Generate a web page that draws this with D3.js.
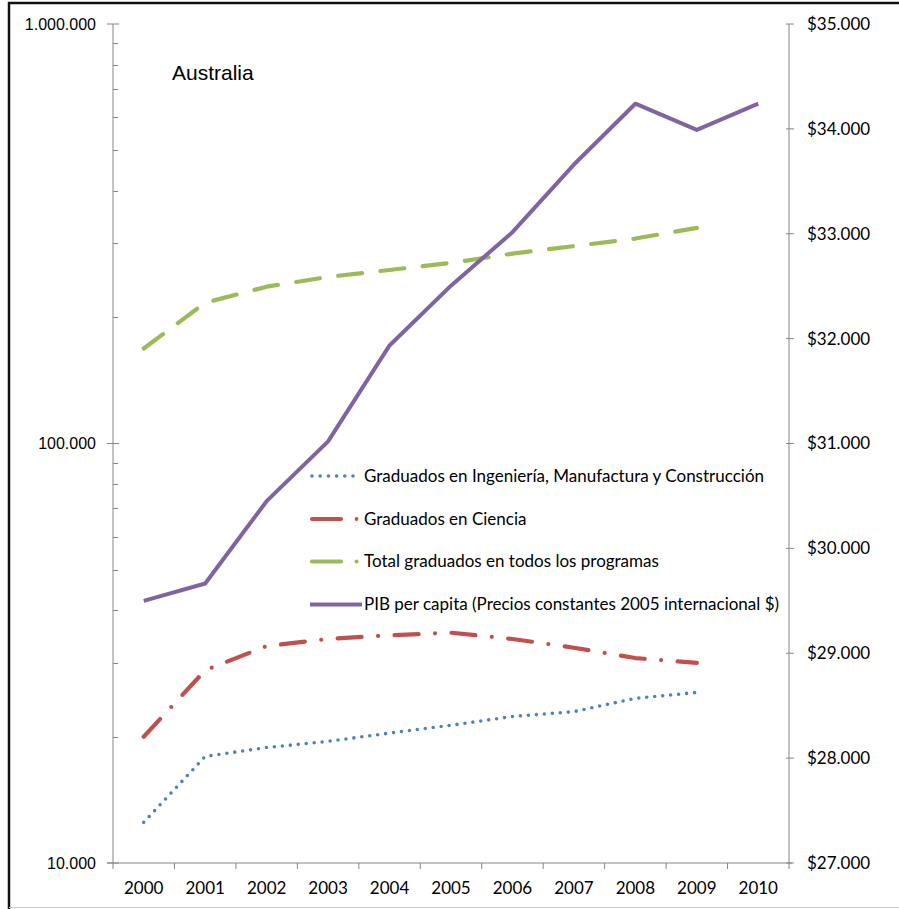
<!DOCTYPE html>
<html>
<head>
<meta charset="utf-8">
<script src="https://cdn.jsdelivr.net/npm/d3@7"></script>
<style>
  html, body { margin: 0; padding: 0; background: #fff; }
  svg { display: block; }
</style>
</head>
<body>
<svg id="chart" width="899" height="909"></svg>
<script>
// Australia: graduates (log scale, left) and GDP per capita (right)
const years = ["2000","2001","2002","2003","2004","2005","2006","2007","2008","2009","2010"];

const gradIngenieria = [12500, 17950, 18850, 19500, 20400, 21300, 22350, 22950, 24700, 25500];
const gradCiencia    = [20000, 28800, 32900, 34200, 34900, 35400, 34200, 32600, 30800, 30000];
const gradTotal      = [168500, 216500, 236500, 249500, 259200, 269500, 283500, 295500, 308000, 326500];
const pibPerCapita   = [29500, 29665, 30450, 31020, 31935, 32505, 33015, 33660, 34240, 33990, 34240];

const leftTicks  = [10000, 100000, 1000000];
const rightTicks = [27000, 28000, 29000, 30000, 31000, 32000, 33000, 34000, 35000];

const legendNames = [
  "Graduados en Ingeniería, Manufactura y Construcción",
  "Graduados en Ciencia",
  "Total graduados en todos los programas",
  "PIB per capita (Precios constantes 2005 internacional $)"
];

const fmtThousands = d3.formatLocale({decimal: ",", thousands: ".", grouping: [3], currency: ["$", ""]});
const fmtLeft = fmtThousands.format(",d");
const fmtRight = fmtThousands.format("$,d");

const svg = d3.select("#chart");
const plot = {left: 113, right: 789, top: 24, bottom: 863};
const axisColor = "#868686";
const labelFont = "Lato, sans-serif";

// outer frame
svg.append("line").attr("x1", 8).attr("x2", 899).attr("y1", 3).attr("y2", 3)
  .attr("stroke", "#111").attr("stroke-width", 2.5);
svg.append("line").attr("x1", 9).attr("x2", 9).attr("y1", 2).attr("y2", 909)
  .attr("stroke", "#111").attr("stroke-width", 2.5);
svg.append("line").attr("x1", 9).attr("x2", 899).attr("y1", 907.5).attr("y2", 907.5)
  .attr("stroke", "#c8c8c8").attr("stroke-width", 1);

const x = d3.scaleBand().domain(years).range([plot.left, plot.right]);
const yL = d3.scaleLog().domain([10000, 1000000]).range([plot.bottom, plot.top]);
const yR = d3.scaleLinear().domain([27000, 35000]).range([plot.bottom, plot.top]);
const cx = d => x(d) + x.bandwidth() / 2;

// left log axis
const gL = svg.append("g");
gL.append("line").attr("x1", plot.left).attr("x2", plot.left)
  .attr("y1", plot.top).attr("y2", plot.bottom).attr("stroke", axisColor);
const minor = [];
for (let dec = 10000; dec < 1000000; dec *= 10) for (let m = 2; m <= 9; m++) minor.push(dec * m);
gL.selectAll("line.minor").data(minor).join("line").attr("class", "minor")
  .attr("x1", plot.left).attr("x2", plot.left + 5)
  .attr("y1", d => Math.round(yL(d)) + 0.5).attr("y2", d => Math.round(yL(d)) + 0.5)
  .attr("stroke", axisColor);
gL.selectAll("line.major").data(leftTicks).join("line").attr("class", "major")
  .attr("x1", plot.left - 6).attr("x2", plot.left + 6)
  .attr("y1", d => yL(d)).attr("y2", d => yL(d)).attr("stroke", axisColor);
gL.selectAll("text").data(leftTicks).join("text")
  .attr("x", 96).attr("y", d => yL(d)).attr("dy", "0.35em")
  .attr("text-anchor", "end").attr("font-family", "Liberation Sans, Arial, sans-serif")
  .attr("font-size", 16).attr("fill", "#000").text(d => fmtLeft(d));

// right linear axis
const gR = svg.append("g");
gR.append("line").attr("x1", plot.right).attr("x2", plot.right)
  .attr("y1", plot.top).attr("y2", plot.bottom).attr("stroke", axisColor);
gR.selectAll("line.tick").data(rightTicks).join("line").attr("class", "tick")
  .attr("x1", plot.right - 3).attr("x2", plot.right + 5)
  .attr("y1", d => yR(d)).attr("y2", d => yR(d)).attr("stroke", axisColor);
gR.selectAll("text").data(rightTicks).join("text")
  .attr("x", 807).attr("y", d => yR(d)).attr("dy", "0.35em")
  .attr("font-family", labelFont).attr("font-size", 17)
  .attr("fill", "#000").text(d => fmtRight(d));

// category axis
const gX = svg.append("g");
gX.append("line").attr("x1", plot.left - 6).attr("x2", plot.right + 3)
  .attr("y1", plot.bottom).attr("y2", plot.bottom).attr("stroke", axisColor);
const bounds = years.map(d => x(d)).concat([plot.right]);
gX.selectAll("line.tick").data(bounds).join("line").attr("class", "tick")
  .attr("x1", d => d).attr("x2", d => d)
  .attr("y1", plot.bottom).attr("y2", plot.bottom + 6).attr("stroke", axisColor);
gX.selectAll("text").data(years).join("text")
  .attr("x", d => cx(d)).attr("y", 894).attr("text-anchor", "middle")
  .attr("font-family", labelFont).attr("font-size", 17)
  .attr("fill", "#000").text(d => d);

// series
const styles = [
  {color: "#4F81BD", width: 3.6, dash: "0,8"},
  {color: "#C0504D", width: 4.2, dash: "24,16.5,0,16.5"},
  {color: "#9BBB59", width: 4.2, dash: "24,18.5"},
  {color: "#8064A2", width: 4, dash: null}
];
const leftSeries = [gradIngenieria, gradCiencia, gradTotal];
const lineL = d3.line().x((d, i) => cx(years[i])).y(d => yL(d));
const lineR = d3.line().x((d, i) => cx(years[i])).y(d => yR(d));

leftSeries.forEach((vals, k) => {
  svg.append("path").datum(vals).attr("d", lineL)
    .attr("fill", "none").attr("stroke", styles[k].color)
    .attr("stroke-width", styles[k].width).attr("stroke-linecap", "round")
    .attr("stroke-linejoin", "round").attr("stroke-dasharray", styles[k].dash);
});
svg.append("path").datum(pibPerCapita).attr("d", lineR)
  .attr("fill", "none").attr("stroke", styles[3].color)
  .attr("stroke-width", styles[3].width).attr("stroke-linejoin", "round");

// title
svg.append("text").attr("x", 172).attr("y", 80)
  .attr("font-family", "Liberation Sans, Arial, sans-serif").attr("font-size", 21)
  .attr("fill", "#000").text("Australia");

// legend
const legendY = [476, 519, 561.5, 604.5];
const lg = svg.append("g");
legendNames.forEach((name, k) => {
  const y = legendY[k];
  const s = styles[k];
  const sample = lg.append("line").attr("x1", 312).attr("x2", 353).attr("y1", y).attr("y2", y)
    .attr("stroke", s.color).attr("stroke-width", s.width);
  if (k === 0) sample.attr("stroke-linecap", "round").attr("stroke-dasharray", "0,8.2");
  if (k === 1 || k === 2) {
    sample.attr("x2", 341).attr("stroke-linecap", "round");
    lg.append("circle").attr("cx", 356.5).attr("cy", y).attr("r", k === 1 ? 1.9 : 2.1)
      .attr("fill", s.color);
  }
  if (k === 3) sample.attr("x1", 310).attr("x2", 362);
  lg.append("text").attr("x", 364).attr("y", y).attr("dy", "0.35em")
    .attr("font-family", labelFont).attr("font-size", 17)
    .attr("fill", "#000").text(name);
});
</script>
</body>
</html>
